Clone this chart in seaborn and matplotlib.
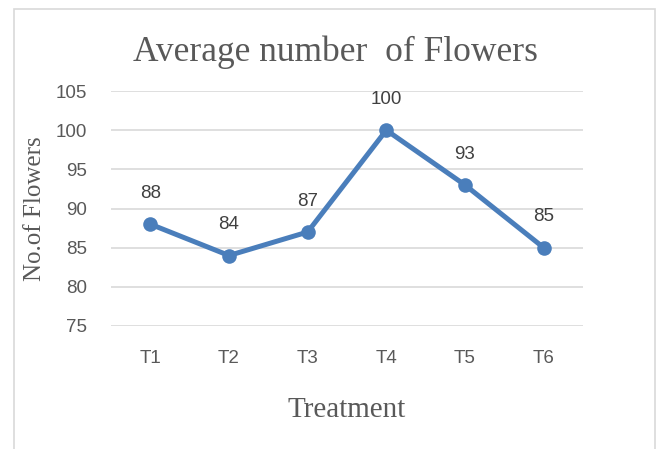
import matplotlib
matplotlib.use("Agg")
import matplotlib.pyplot as plt
import seaborn as sns
import pandas as pd
from matplotlib.patches import Rectangle

categories = ["T1", "T2", "T3", "T4", "T5", "T6"]
flowers = [88, 84, 87, 100, 93, 85]
y_ticks = [75, 80, 85, 90, 95, 100, 105]

df = pd.DataFrame({"Treatment": categories, "Flowers": flowers})

sns.set_theme(style="white")
plt.rcParams['font.family'] = ['Liberation Sans', 'DejaVu Sans']

fig = plt.figure(figsize=(6.6, 4.49), dpi=100)
ax = fig.add_axes([111/660, 1-326/449, (583-111)/660, (326-91)/449])

line_color = "#4a7ebb"
sns.lineplot(data=df, x="Treatment", y="Flowers", ax=ax, color=line_color,
             linewidth=3.6, marker="o", markersize=10.5, markeredgewidth=0, sort=False)

ax.set_xlim(-0.5, len(categories) - 0.5)
ax.set_ylim(75, 105)
ax.set_yticks(y_ticks)
ax.yaxis.grid(True, color="#d9d9d9", linewidth=1.2)
ax.xaxis.grid(False)
for s in ax.spines.values():
    s.set_visible(False)
ax.tick_params(axis="both", length=0, labelsize=13.5, colors="#595959")
ax.tick_params(axis="y", pad=17)
ax.tick_params(axis="x", pad=17)

for i, v in enumerate(flowers):
    ax.annotate(str(v), (i, v), xytext=(0, 16), textcoords="offset points",
                ha="center", va="bottom", fontsize=13.5, color="#404040")

ax.set_xlabel("Treatment", family=["Liberation Serif"], fontsize=21, color="#595959", labelpad=22)
ax.set_ylabel("No.of Flowers", family=["Liberation Serif"], fontsize=18, color="#595959", labelpad=7)
fig.text(335/660, 1-52/449, "Average number  of Flowers", family=["Liberation Serif"],
         fontsize=25.5, color="#595959", ha="center", va="center")

fig.patches.append(Rectangle((14/660, -0.05), (655-14)/660, 1.05-9/449,
                             transform=fig.transFigure, fill=False,
                             edgecolor="#d9d9d9", linewidth=1.2))

fig.savefig("out.png", dpi=100)
